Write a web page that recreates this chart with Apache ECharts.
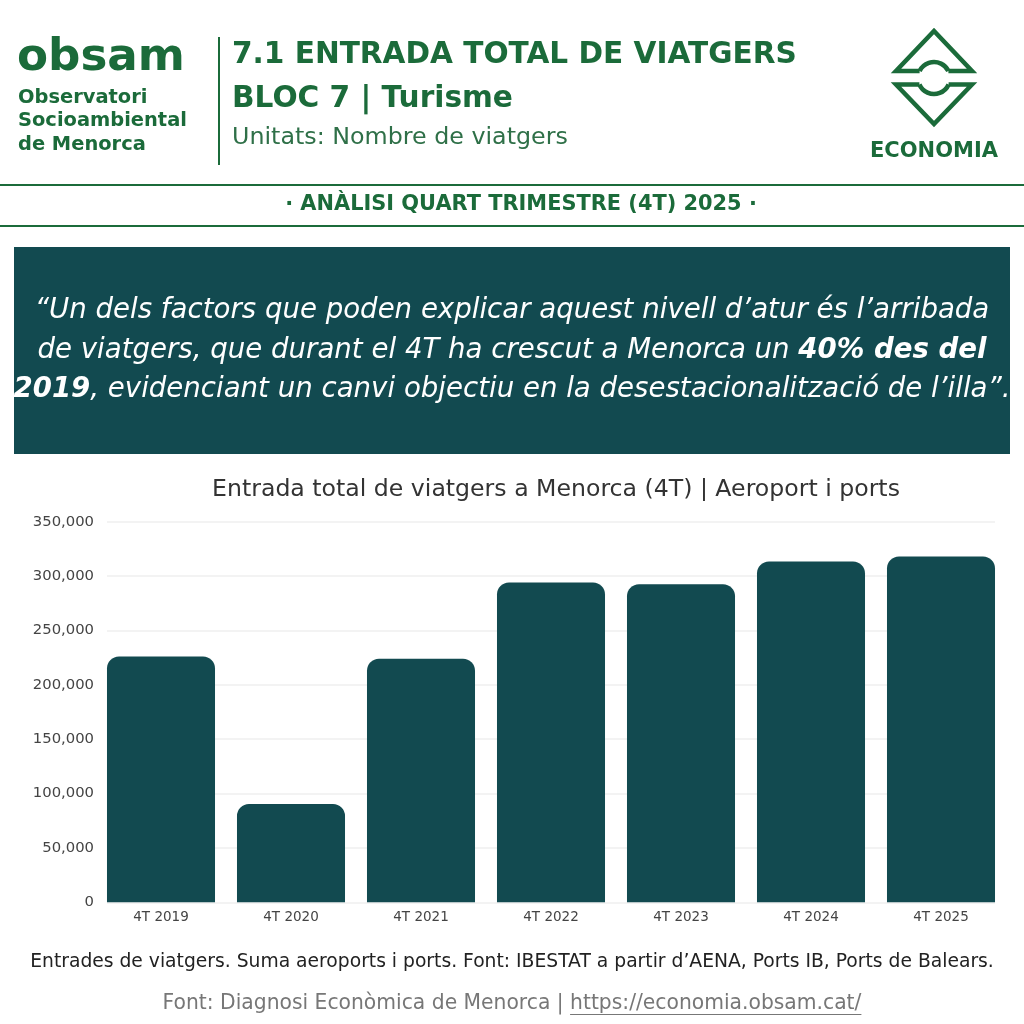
<!DOCTYPE html>
<html>
<head>
<meta charset="utf-8">
<script src="https://cdn.jsdelivr.net/npm/echarts@6/dist/echarts.min.js"></script>
<style>
html,body{margin:0;padding:0;background:#fff;}
#chart{width:1024px;height:1024px;}
</style>
</head>
<body>
<div id="chart"></div>
<script>
// ---- data ----
var categories = ['4T 2019', '4T 2020', '4T 2021', '4T 2022', '4T 2023', '4T 2024', '4T 2025'];
var travellers = [226000, 90500, 224000, 294000, 292500, 313500, 318000];
var yTicks = [0, 50000, 100000, 150000, 200000, 250000, 300000, 350000];

var GREEN = '#1b6b3a';
var TEAL = '#124a50';
var FONT = 'DejaVu Sans';

var chart = echarts.init(document.getElementById('chart'), null, {renderer: 'canvas'});

var ctx = document.createElement('canvas').getContext('2d');
function f(spec, size) { return spec + ' ' + size + 'px "' + FONT + '"'; }
function measure(text, spec, size) { ctx.font = f(spec, size); return ctx.measureText(text).width; }
// font size so that the given pieces span the target width
function fit(parts, target) {
  var w = 0;
  parts.forEach(function (p) { w += measure(p[0], p[1], 100); });
  return 100 * target / w;
}

function txt(x, y, text, spec, target, fill, align) {
  var s = fit([[text, spec]], target);
  return {type: 'text', x: x, y: y, style: {text: text, font: f(spec, s), fill: fill, align: align || 'left', verticalAlign: 'middle'}};
}

// quote lines
var Q = 'italic 300';
var q1 = '“Un dels factors que poden explicar aquest nivell d’atur és l’arribada';
var q2a = 'de viatgers, que durant el 4T ha crescut a Menorca un ', q2b = '40% des del';
var q3a = '2019', q3b = ', evidenciant un canvi objectiu en la desestacionalització de l’illa”.';
var qs = fit([[q1, Q]], 955);

// footer
var footLeft = 'Font: Diagnosi Econòmica de Menorca | ';
var footUrl = 'https://economia.obsam.cat/';
var fs = fit([[footLeft + footUrl, 'normal']], 699);
var wL = measure(footLeft, 'normal', fs), wU = measure(footUrl, 'normal', fs);
var footStart = 512 - (wL + wU) / 2;

var titleText = 'Entrada total de viatgers a Menorca (4T) | Aeroport i ports';
var titleSize = fit([[titleText, 'normal']], 688);

var logoSub = fit([['Socioambiental', 'bold']], 169);

var la = 0.453, lb = 0.418; // hump arc cut angles
var option = {
  backgroundColor: '#ffffff',
  textStyle: {fontFamily: FONT},
  title: {
    text: titleText,
    left: 551, top: 487 - titleSize * 0.6, textAlign: 'center',
    textStyle: {fontSize: titleSize, fontWeight: 'normal', color: '#333', fontFamily: FONT}
  },
  grid: [
    {left: 96, right: 18, top: 521.7, bottom: 121.7},
    {left: 107, right: 29, top: 521.7, bottom: 121.7}
  ],
  xAxis: [{
    type: 'category', gridIndex: 0,
    data: categories,
    axisLine: {show: false},
    axisTick: {show: false},
    axisLabel: {color: '#444', fontSize: 13.5, margin: 8, fontFamily: FONT}
  }, {
    type: 'category', gridIndex: 1, data: categories, show: false
  }],
  yAxis: [{
    type: 'value', gridIndex: 0,
    min: yTicks[0], max: yTicks[yTicks.length - 1], interval: 50000,
    show: false, splitLine: {show: false}
  }, {
    type: 'value', gridIndex: 1,
    min: yTicks[0], max: yTicks[yTicks.length - 1], interval: 50000,
    axisLine: {show: false}, axisTick: {show: false},
    splitLine: {lineStyle: {color: '#efefef', width: 1.5}},
    axisLabel: {
      color: '#444', fontSize: 14.8, margin: 13, fontFamily: FONT,
      formatter: function (v) { return v.toLocaleString('en-US'); }
    }
  }],
  series: [{
    type: 'bar',
    xAxisIndex: 0, yAxisIndex: 0,
    data: travellers,
    barCategoryGap: '16.9%',
    itemStyle: {color: TEAL, borderRadius: [12, 12, 0, 0]},
    animation: false
  }],
  graphic: [
    // obsam logo text
    txt(17, 58, 'obsam', 'bold', 168, GREEN),
    {type: 'text', x: 18, y: 98, style: {text: 'Observatori', font: f('bold', logoSub), fill: GREEN, verticalAlign: 'middle'}},
    {type: 'text', x: 18, y: 121, style: {text: 'Socioambiental', font: f('bold', logoSub), fill: GREEN, verticalAlign: 'middle'}},
    {type: 'text', x: 18, y: 145, style: {text: 'de Menorca', font: f('bold', logoSub), fill: GREEN, verticalAlign: 'middle'}},
    // vertical divider
    {type: 'line', shape: {x1: 219, y1: 37, x2: 219, y2: 165}, style: {stroke: GREEN, lineWidth: 2}},
    // titles
    txt(232, 55, '7.1 ENTRADA TOTAL DE VIATGERS', 'bold', 565, GREEN),
    txt(232, 99, 'BLOC 7 | Turisme', 'bold', 281, GREEN),
    txt(232, 138, 'Unitats: Nombre de viatgers', 'normal', 336, '#2f7048'),
    // ECONOMIA logo
    {type: 'polyline', shape: {points: [[934 - 14.4, 71], [896, 71], [934, 31], [972, 71], [934 + 14.4, 71]]},
     style: {fill: null, stroke: GREEN, lineWidth: 4.5, lineJoin: 'miter', miterLimit: 10}},
    {type: 'arc', shape: {cx: 934, cy: 78, r: 16, startAngle: Math.PI + la, endAngle: Math.PI * 2 - la, clockwise: true},
     style: {fill: null, stroke: GREEN, lineWidth: 4.5}},
    {type: 'polyline', shape: {points: [[934 - 14.6, 84.5], [896, 84.5], [934, 124], [972, 84.5], [934 + 14.6, 84.5]]},
     style: {fill: null, stroke: GREEN, lineWidth: 4.5, lineJoin: 'miter', miterLimit: 10}},
    {type: 'arc', shape: {cx: 934, cy: 78, r: 16, startAngle: lb, endAngle: Math.PI - lb, clockwise: true},
     style: {fill: null, stroke: GREEN, lineWidth: 4.5}},
    txt(934, 152, 'ECONOMIA', 'bold', 128, GREEN, 'center'),
    // separator lines
    {type: 'line', shape: {x1: 0, y1: 185, x2: 1024, y2: 185}, style: {stroke: GREEN, lineWidth: 2}},
    {type: 'line', shape: {x1: 0, y1: 226, x2: 1024, y2: 226}, style: {stroke: GREEN, lineWidth: 2}},
    txt(521, 205, '· ANÀLISI QUART TRIMESTRE (4T) 2025 ·', 'bold', 472, GREEN, 'center'),
    // quote box
    {type: 'rect', shape: {x: 14, y: 247, width: 996, height: 207}, style: {fill: TEAL}},
    {type: 'text', x: 512, y: 311, style: {text: q1, font: f(Q, qs), fill: '#fff', align: 'center', verticalAlign: 'middle'}},
    {type: 'text', x: 512, y: 351, style: {
      text: q2a + '{b|' + q2b + '}', font: f(Q, qs), fill: '#fff', align: 'center', verticalAlign: 'middle',
      rich: {b: {font: f('italic bold', qs), fill: '#fff'}}
    }},
    {type: 'text', x: 512, y: 390, style: {
      text: '{b|' + q3a + '}' + q3b, font: f(Q, qs), fill: '#fff', align: 'center', verticalAlign: 'middle',
      rich: {b: {font: f('italic bold', qs), fill: '#fff'}}
    }},
    // footnote
    txt(512, 962, 'Entrades de viatgers. Suma aeroports i ports. Font: IBESTAT a partir d’AENA, Ports IB, Ports de Balears.', 'normal', 964, '#222', 'center'),
    // footer
    {type: 'text', x: footStart, y: 1004, style: {text: footLeft, font: f('normal', fs), fill: '#777', verticalAlign: 'middle'}},
    {type: 'text', x: footStart + wL, y: 1004, style: {text: footUrl, font: f('normal', fs), fill: '#777', verticalAlign: 'middle'}},
    {type: 'line', shape: {x1: footStart + wL, y1: 1014.5, x2: footStart + wL + wU, y2: 1014.5}, style: {stroke: '#777', lineWidth: 1}}
  ]
};
chart.setOption(option);
</script>
</body>
</html>
